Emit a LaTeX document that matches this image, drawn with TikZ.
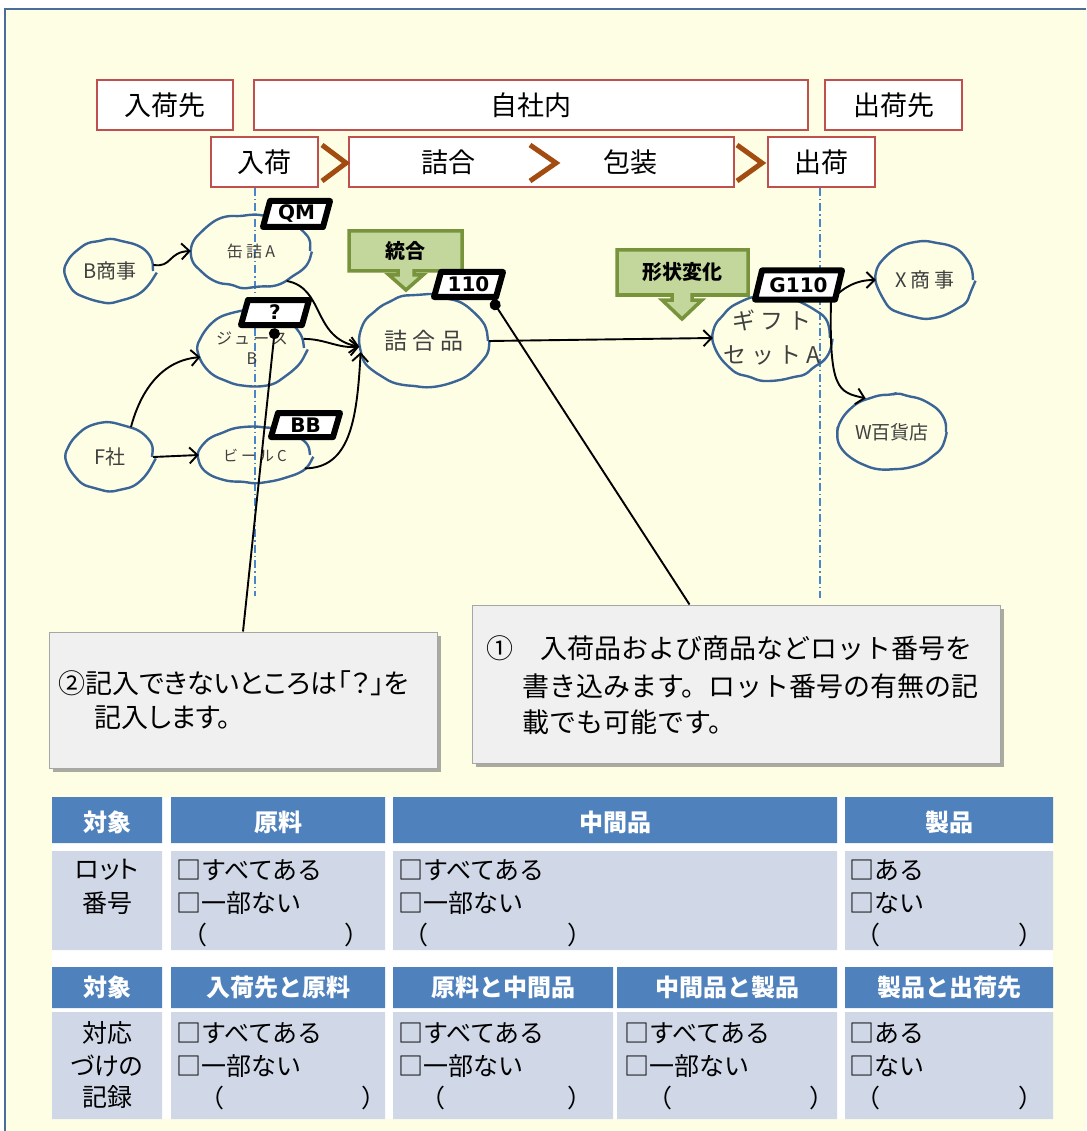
\documentclass[tikz,border=0pt]{standalone}
\usepackage{fontspec}
\setmainfont{Noto Sans CJK JP}
\newfontfamily\jpw[LetterSpace=20]{Noto Sans CJK JP}
\newfontfamily\jpp[RawFeature=+palt]{Noto Sans CJK JP}
\newfontfamily\tagfont{DejaVu Sans}
\usetikzlibrary{arrows.meta,decorations.pathmorphing,shadows,calc,shapes.geometric}
\definecolor{bgy}{HTML}{FEFEE4}
\definecolor{framec}{HTML}{4A6E9A}
\definecolor{redb}{HTML}{C0504D}
\definecolor{chevc}{HTML}{A24C12}
\definecolor{blobc}{HTML}{3B6596}
\definecolor{gfill}{HTML}{C3D69B}
\definecolor{gline}{HTML}{77933C}
\definecolor{hdr}{HTML}{4F81BD}
\definecolor{bod}{HTML}{D0D8E8}
\definecolor{ddc}{HTML}{4A86C8}
\definecolor{txtg}{HTML}{404040}
\definecolor{callf}{HTML}{F0F0F0}
\definecolor{calld}{HTML}{A6A6A6}
\newcommand\myfs[1]{\fontsize{#1}{#1}\selectfont}
\newcommand\lottag[6]{%
  \filldraw[black,fill=white,line width=6pt,line join=round]
    ({#2-#4/2+3},{#3+#5/2-3}) -- ({#2+#4/2-10},{#3+#5/2-3}) --
    ({#2+#4/2-3},{#3-#5/2+3}) -- ({#2-#4/2+10},{#3-#5/2+3}) -- cycle;
  \node[tagtext,minimum width={#4-8},minimum height=#5] (#1) at (#2,#3) {#6};}
\begin{document}
\begin{tikzpicture}[x=1pt,y=-1pt,
  hbox/.style={draw=redb,line width=2pt,fill=white,inner sep=0pt,font=\myfs{27}},
  blob/.style={ellipse,draw=blobc,line width=2.4pt,inner sep=0pt,decorate,
    decoration={random steps,segment length=11pt,amplitude=1.5pt},rounded corners=5pt},
  btext/.style={inner sep=0pt,text=txtg,align=center},
  tagtext/.style={inner sep=0pt,font=\tagfont\bfseries\myfs{20}},
  conn/.style={line width=1.9pt,-{Straight Barb[length=8pt,width=16pt]}},
  ptr/.style={line width=1.9pt,{Circle[length=11pt]}-},
  gcall/.style={fill=gfill,draw=gline,line width=3.5pt,line join=miter},
  gtext/.style={inner sep=0pt,font=\bfseries\myfs{20}},
  callbox/.style={fill=callf,draw=calld,line width=1pt,inner sep=0pt,
    drop shadow={shadow xshift=4pt,shadow yshift=-4pt,fill=black!55,opacity=.6}},
  ctext/.style={inner sep=0pt,anchor=west,font=\jpp\myfs{27}},
  ctextw/.style={inner sep=0pt,anchor=west,font=\myfs{27}},
  ddl/.style={ddc,line width=1.2pt,dash pattern=on 8pt off 3pt on 1.5pt off 3pt},
  th/.style={inner sep=0pt,text=white,font=\bfseries\myfs{24}},
  tb/.style={inner sep=0pt,font=\myfs{25}},
  tbw/.style={tb,anchor=west}]
\useasboundingbox (0,0) rectangle (1086,1131);
\fill[white] (0,0) rectangle (1086,1131);
\fill[bgy] (5,9) rectangle (1086,1131);
\draw[framec,line width=2pt] (5,1131) -- (5,9) -- (1086,9);

% header boxes
\node[hbox,minimum width=136,minimum height=50] (h1) at (165,105) {入荷先};
\node[hbox,minimum width=554,minimum height=50] (h2) at (531,105) {自社内};
\node[hbox,minimum width=137,minimum height=50] (h3) at (893.5,105) {出荷先};
\node[hbox,minimum width=107,minimum height=50] (p1) at (264.5,162) {入荷};
\node[hbox,minimum width=385,minimum height=50] (p2) at (541.5,162) {};
\node[inner sep=0pt,font=\myfs{27}] (p2a) at (448,162) {詰合};
\node[inner sep=0pt,font=\myfs{27}] (p2b) at (630,162) {包装};
\node[hbox,minimum width=107,minimum height=50] (p3) at (821.5,162) {出荷};
\draw[chevc,line width=5pt,line join=miter] (322,145) -- (346,163) -- (322,181);
\draw[chevc,line width=5pt,line join=miter] (530,145) -- (556,163) -- (530,181);
\draw[chevc,line width=5pt,line join=miter] (737,145) -- (762,163) -- (737,181);

% dash-dot lines
\draw[ddl] (255,188) -- (255,596);
\draw[ddl] (820,188) -- (820,598);

% blobs
\pgfmathsetseed{7}
\node[blob,minimum width=86,minimum height=62] (bs) at (110,271) {};
\node[btext,font=\jpp\myfs{20}] (bst) at (bs) {B商事};
\node[blob,minimum width=118,minimum height=72] (kz) at (251,251) {};
\node[btext,font=\jpw\myfs{16}] (kzt) at (kz) {缶詰A};
\node[blob,minimum width=104,minimum height=74] (js) at (252,348) {};
\node[btext,font=\jpw\fontsize{16}{20}\selectfont] (jst) at (js) {ジュース\\B};
\node[blob,minimum width=84,minimum height=66] (fs) at (110,457) {};
\node[btext,font=\jpp\myfs{20}] (fst) at (fs) {F社};
\node[blob,minimum width=110,minimum height=56] (bc) at (255,455) {};
\node[btext,font=\jpw\myfs{15}] (bct) at (bc) {ビールC};
\node[blob,minimum width=128,minimum height=92] (tg) at (424,341) {};
\node[btext,font=\jpw\myfs{23}] (tgt) at (tg) {詰合品};
\node[blob,minimum width=116,minimum height=84] (gf) at (772,338) {};
\node[btext,font=\jpw\fontsize{23}{34}\selectfont] (gft) at (gf) {ギフト\\セットA};
\node[blob,minimum width=96,minimum height=76] (xs) at (925,280) {};
\node[btext,font=\jpw\myfs{20}] (xst) at (xs) {X商事};
\node[blob,minimum width=108,minimum height=74] (ws) at (892,432) {};
\node[btext,font=\jpp\myfs{19}] (wst) at (ws) {W百貨店};

% green callouts
\draw[gcall] (349,231) -- (462,231) -- (462,271) -- (414,271) -- (414,275) -- (423,275)
  -- (406,290) -- (389,275) -- (398,275) -- (398,271) -- (349,271) -- cycle;
\node[gtext] (g1) at (405,251) {統合};
\draw[gcall] (617,250) -- (748,250) -- (748,295) -- (692,295) -- (692,300) -- (702,300)
  -- (682,319) -- (662,300) -- (672,300) -- (672,295) -- (617,295) -- cycle;
\node[gtext] (g2) at (682,272) {形状変化};

% connectors
\draw[conn] (bs.8) .. controls (172,268) and (168,252) .. (kz.west);
\draw[conn] (kz.-40) .. controls (325,288) and (312,338) .. (tg.185);
\draw[conn] (js.10) to[out=0,in=185] (tg.185);
\draw[conn] (fs.55) to[out=75,in=185] (js.190);
\draw[conn] (fs.east) -- (bc.west);
\draw[conn] (bc.-15) .. controls (350,468) and (357,420) .. (tg.190);
\draw[conn] (tg.east) -- (gf.west);
\coordinate (gs) at (831,300);
\draw[conn] (gs) to[out=45,in=180] (xs.west);
\draw[conn] (gs) .. controls (829,390) and (838,392) .. (ws.128);

% tags
\lottag{qt}{296.5}{214}{73}{32}{QM}
\lottag{qq}{275}{312.5}{74}{31}{?}
\lottag{bt}{305.5}{425}{75}{30}{BB}
\lottag{lt}{468.5}{284.5}{75}{31}{110}
\lottag{gt}{798.5}{285}{93}{35}{G110}

% callouts
\node[callbox,minimum width=388,minimum height=136] (cl) at (243,700) {};
\node[ctext] (cl1) at (58,683) {②記入できないところは「？」を};
\node[ctext] (cl2) at (94,718) {記入します。};
\node[callbox,minimum width=528,minimum height=158] (cr) at (736,684) {};
\node[ctextw] (cr1) at (486,648) {①　入荷品および商品などロット番号を};
\node[ctextw] (cr2) at (522,686) {書き込みます。ロット番号の有無の記};
\node[ctextw] (cr3) at (522,722) {載でも可能です。};
\draw[ptr] (qq.south) -- (cl.north);
\draw[ptr] ($(lt.south east)+(-10,0)$) -- ($(cr.north west)+(218,0)$);

% table
\fill[white] (52,797) rectangle (1053,1119);
\fill[hdr] (52,797) rectangle (162,843) (171,797) rectangle (385,843)
  (393,797) rectangle (837,843) (845,797) rectangle (1053,843);
\fill[bod] (52,851) rectangle (162,950) (171,851) rectangle (385,950)
  (393,851) rectangle (837,950) (845,851) rectangle (1053,950);
\fill[hdr] (52,967) rectangle (162,1008) (171,967) rectangle (385,1008)
  (393,967) rectangle (613,1008) (617,967) rectangle (837,1008) (845,967) rectangle (1053,1008);
\fill[bod] (52,1012) rectangle (162,1119) (171,1012) rectangle (385,1119)
  (393,1012) rectangle (613,1119) (617,1012) rectangle (837,1119) (845,1012) rectangle (1053,1119);

\node[th] (a1) at (107,822) {対象};
\node[th] (a2) at (278,822) {原料};
\node[th] (a3) at (615,822) {中間品};
\node[th] (a4) at (949,822) {製品};
\node[th] (c1) at (107,987) {対象};
\node[th] (c2) at (278,987) {入荷先と原料};
\node[th] (c3) at (503,987) {原料と中間品};
\node[th] (c4) at (727,987) {中間品と製品};
\node[th] (c5) at (949,987) {製品と出荷先};

\node[tb,font=\jpp\myfs{25}] (b0a) at (107,870) {ロット};
\node[tb] (b0b) at (107,903) {番号};
\node[tbw] (b1a) at (176,870) {□すべてある};
\node[tbw] (b1b) at (176,903) {□一部ない};
\node[tb] (b1c) at (195,935) {（};
\node[tb] (b1d) at (357,935) {）};
\node[tbw] (b2a) at (398,870) {□すべてある};
\node[tbw] (b2b) at (398,903) {□一部ない};
\node[tb] (b2c) at (416,935) {（};
\node[tb] (b2d) at (580,935) {）};
\node[tbw] (b3a) at (849,870) {□ある};
\node[tbw] (b3b) at (849,903) {□ない};
\node[tb] (b3c) at (868,935) {（};
\node[tb] (b3d) at (1031,935) {）};

\node[tb,font=\jpp\myfs{25}] (d0a) at (107,1033) {対応};
\node[tb,font=\jpp\myfs{25}] (d0b) at (107,1066) {づけの};
\node[tb] (d0c) at (107,1097) {記録};
\node[tbw] (d1a) at (176,1033) {□すべてある};
\node[tbw] (d1b) at (176,1066) {□一部ない};
\node[tb] (d1c) at (212,1098) {（};
\node[tb] (d1d) at (374,1098) {）};
\node[tbw] (d2a) at (398,1033) {□すべてある};
\node[tbw] (d2b) at (398,1066) {□一部ない};
\node[tb] (d2c) at (433,1098) {（};
\node[tb] (d2d) at (580,1098) {）};
\node[tbw] (d3a) at (624,1033) {□すべてある};
\node[tbw] (d3b) at (624,1066) {□一部ない};
\node[tb] (d3c) at (660,1098) {（};
\node[tb] (d3d) at (822,1098) {）};
\node[tbw] (d4a) at (849,1033) {□ある};
\node[tbw] (d4b) at (849,1066) {□ない};
\node[tb] (d4c) at (868,1098) {（};
\node[tb] (d4d) at (1031,1098) {）};
\end{tikzpicture}
\end{document}
